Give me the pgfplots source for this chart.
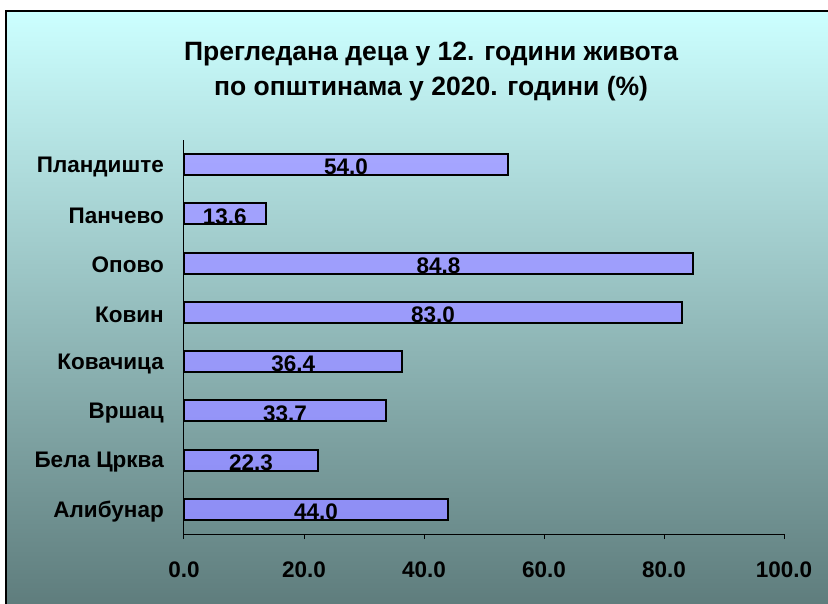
\documentclass[border=0pt]{standalone}
\usepackage{pgfplots}
\pgfplotsset{compat=1.18}
\usepackage{fontspec}
\setmainfont{Liberation Sans}
\definecolor{bgtop}{RGB}{204,255,255}
\definecolor{bgbot}{RGB}{94,124,124}
\definecolor{bartop}{RGB}{165,165,255}
\definecolor{barbot}{RGB}{142,142,245}

\begin{document}
\begin{tikzpicture}[x=1pt,y=1pt]
  \useasboundingbox (0,0) rectangle (828,603);
  \clip (0,0) rectangle (828,603);
  \fill[white] (0,0) rectangle (828,603);
  % chart area with vertical gradient
  \shade[top color=bgtop, bottom color=bgbot] (6,-5) rectangle (835,592);
  \draw[black, line width=2pt] (6,-5) -- (6,592) -- (835,592);
  % title
  \node[align=center, font=\bfseries\fontsize{26.5}{35}\selectfont] at (431,531)
    {Прегледана деца у 12. години живота\\по општинама у 2020. години (\%)};
  \begin{axis}[
    at={(184pt,69pt)}, anchor=south west,
    scale only axis, width=600pt, height=394pt,
    xmin=0, xmax=100, ymin=-0.5, ymax=7.5,
    axis x line*=bottom, axis y line*=left,
    axis line style={black, line width=1pt, -},
    xtick={0,20,...,100},
    ytick={0,...,7},
    yticklabels={Алибунар,Бела Црква,Вршац,Ковачица,Ковин,Опово,Панчево,Пландиште},
    ytick style={draw=none},
    xtick style={black, line width=1pt},
    tick align=outside, major tick length=5pt,
    /pgf/number format/.cd, fixed, zerofill, precision=1, assume math mode=true,
    /pgfplots/.cd,
    xticklabel style={font=\bfseries\fontsize{22.5}{26}\selectfont, inner sep=0pt, anchor=north},
    xticklabel shift=23pt,
    yticklabel style={font=\bfseries\fontsize{22.5}{26}\selectfont, inner sep=0pt, anchor=east, yshift=-2pt},
    yticklabel shift=15pt,
    clip=false,
  ]
    \addplot[xbar, bar width=21pt, bar shift=0pt, draw=black, line width=2pt,
      top color=bartop, bottom color=barbot]
      table[x=v, y=idx] {
        idx v
        0 44.0
        1 22.3
        2 33.7
        3 36.4
        4 83.0
        5 84.8
        6 13.6
        7 54.0
      };
    % value labels in the middle of each bar
    \addplot[draw=none, mark=none, nodes near coords, point meta=explicit,
      every node near coord/.append style={anchor=center, yshift=-2.5pt,
        font=\bfseries\fontsize{22.5}{26}\selectfont, inner sep=0pt}]
      table[x expr=\thisrow{v}/2, y=idx, meta=v] {
        idx v
        0 44.0
        1 22.3
        2 33.7
        3 36.4
        4 83.0
        5 84.8
        6 13.6
        7 54.0
      };
  \end{axis}
\end{tikzpicture}
\end{document}
